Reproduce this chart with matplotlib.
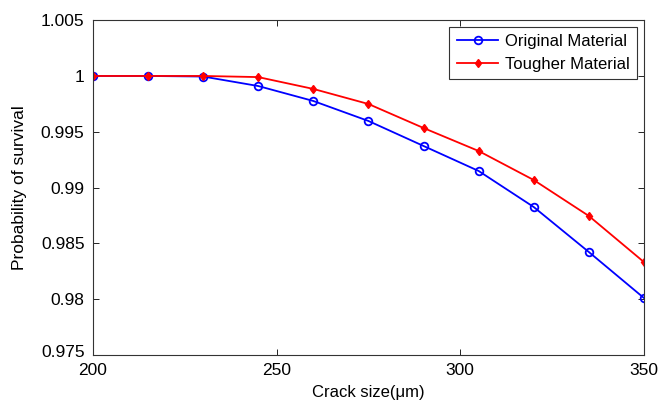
import matplotlib
matplotlib.use("Agg")
import matplotlib.pyplot as plt
import matplotlib.transforms as mtransforms

# données
crack_size = [200, 215, 230, 245, 260, 275, 290, 305, 320, 335, 350]
p_original = [1.0, 1.0, 0.99995, 0.9991, 0.99776, 0.99597, 0.99373, 0.99149, 0.98826, 0.98423, 0.98011]
p_tougher = [1.0, 1.0, 1.0, 0.9999, 0.99884, 0.99749, 0.99534, 0.99328, 0.99068, 0.98746, 0.98333]

plt.rcParams["font.family"] = ["Liberation Sans", "DejaVu Sans"]

fig = plt.figure(figsize=(6.68, 4.03), dpi=100)
ax = fig.add_axes([0.139, 0.119, 0.825, 0.831])

ax.plot(crack_size, p_original, "-o", color="blue", lw=1.3, ms=5.5,
        mfc="none", mew=1.3, label="Original Material")
ax.plot(crack_size, p_tougher, "-d", color="red", lw=1.3, ms=4.5,
        mec="red", mfc="red", label="Tougher Material")

ax.set_xlim(200, 350)
ax.set_ylim(0.975, 1.005)
ax.set_xticks([200, 250, 300, 350])
ax.set_yticks([0.975, 0.98, 0.985, 0.99, 0.995, 1.0, 1.005])
ax.set_yticklabels(["0.975", "0.98", "0.985", "0.99", "0.995", "1", "1.005"])
ax.tick_params(direction="in", top=True, right=True, labelsize=12.5, length=4, width=0.6)
ax.tick_params(axis="x", pad=6)
ax.tick_params(axis="y", pad=6)
for s in ax.spines.values():
    s.set_linewidth(0.8)
    s.set_color("#333333")

# petit décalage vers le haut du 0.975 (style MATLAB)
lab = ax.get_yticklabels()[0]
lab.set_transform(lab.get_transform() + mtransforms.ScaledTranslation(0, 3 / 72, fig.dpi_scale_trans))

ax.set_xlabel("Crack size(\u03bcm)", fontsize=12, labelpad=5)
ax.set_ylabel("Probability of survival", fontsize=12.5, labelpad=10)

leg = ax.legend(loc="upper right", fontsize=12, fancybox=False, framealpha=1,
                edgecolor="#333333", borderaxespad=0.4, handlelength=2.5,
                borderpad=0.45, labelspacing=0.45, handletextpad=0.4)
leg.get_frame().set_linewidth(0.8)

fig.savefig("out.png", dpi=100)
